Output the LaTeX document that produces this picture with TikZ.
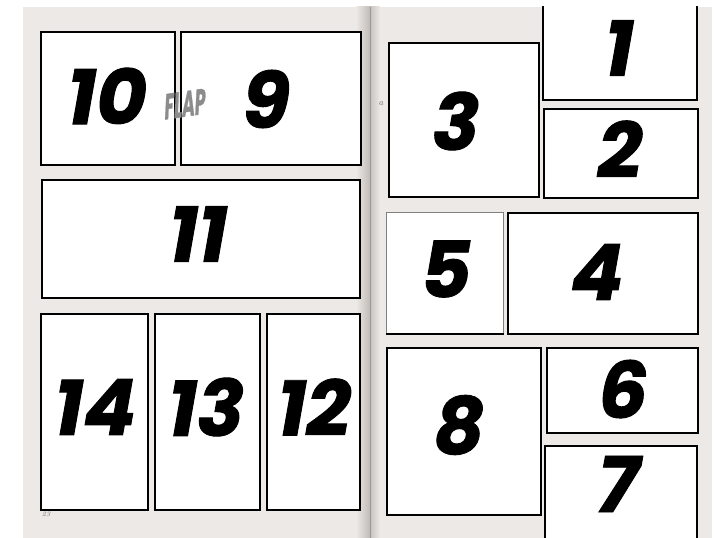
\documentclass[tikz,border=0pt]{standalone}
\usepackage{fontspec}
\newfontfamily\numfont{Poppins}[BoldItalicFeatures={FakeBold=1.2}]
\tikzset{
  panel/.style={draw=black, line width=2.4bp, fill=white},
  num/.style={font=\numfont\bfseries\itshape\fontsize{78}{78}\selectfont, inner sep=0pt},
  tiny/.style={font=\itshape\fontsize{7}{7}\selectfont, text=black!55, inner sep=0pt},
}
\definecolor{paper}{HTML}{ECE9E6}
\definecolor{spine}{HTML}{C4BEBA}
\begin{document}
\begin{tikzpicture}[x=1bp,y=-1bp]
\useasboundingbox (0,0) rectangle (723,538);
\fill[white] (0,0) rectangle (723,538);
% pages
\fill[paper] (23,7) rectangle (712,538);
\shade[left color=paper, right color=spine] (356,7) rectangle (369,538);
\shade[left color=spine, right color=paper] (369,7) rectangle (380,538);
\draw[black!40, line width=0.8bp] (370,7) -- (370,538);
% left page panels
\node[panel, minimum width=134bp, minimum height=133bp, anchor=north west] (p10) at (40,31) {};
\node[panel, minimum width=180bp, minimum height=133bp, anchor=north west] (p9) at (180,31) {};
\node[panel, minimum width=318bp, minimum height=118bp, anchor=north west] (p11) at (41,179) {};
\node[panel, minimum width=107bp, minimum height=196bp, anchor=north west] (p14) at (40,313) {};
\node[panel, minimum width=105bp, minimum height=196bp, anchor=north west] (p13) at (154,313) {};
\node[panel, minimum width=93bp, minimum height=196bp, anchor=north west] (p12) at (266,313) {};
% right page panels
\node[panel, minimum width=150bp, minimum height=154bp, anchor=north west] (p3) at (388,42) {};
\node[panel, minimum width=154bp, minimum height=89bp, anchor=north west] (p2) at (543,108) {};
\node[panel, minimum width=190bp, minimum height=121bp, anchor=north west] (p4) at (507,212) {};
\node[draw=black!50, line width=0.8bp, fill=white, minimum width=117bp, minimum height=121bp, anchor=north west] (p5) at (386,212) {};
\draw[line width=2.4bp] (p5.south west) -- (p5.south east);
\node[panel, minimum width=154bp, minimum height=167bp, anchor=north west] (p8) at (386,347) {};
\node[panel, minimum width=151bp, minimum height=85bp, anchor=north west] (p6) at (546,347) {};
% panel 1 (runs off the top) and panel 7 (runs off the bottom)
\coordinate (p1tl) at (543,6);
\coordinate (p1tr) at (697,6);
\coordinate (p1bl) at (543,100);
\coordinate (p1br) at (697,100);
\fill[white] (p1tl) rectangle (p1br);
\draw[line width=2.4bp] (p1tl) -- (p1bl) -- (p1br) -- (p1tr);
\coordinate (p7tl) at (545,446);
\coordinate (p7tr) at (697,446);
\coordinate (p7bl) at (545,539);
\coordinate (p7br) at (697,539);
\fill[white] (p7tl) rectangle (p7br);
\draw[line width=2.4bp] (p7bl) -- (p7tl) -- (p7tr) -- (p7br);
% numbers
\node[num] (n10) at (107,96) {10};
\node[num] (n9) at (266,99) {9};
\node[num] (n11) at (198,234) {11};
\node[num] (n14) at (95,407) {14};
\node[num] (n13) at (206,407) {13};
\node[num] (n12) at (314,407) {12};
\node[num] (n3) at (456,121) {3};
\node[num] (n1) at (619,48) {1};
\node[num] (n2) at (620,149) {2};
\node[num] (n5) at (446,269) {5};
\node[num] (n4) at (597,272) {4};
\node[num] (n8) at (459,425) {8};
\node[num] (n6) at (623,389) {6};
\node[num] (n7) at (618,484) {7};
% FLAP sound effect
\node[font=\numfont\bfseries\itshape\fontsize{36}{36}\selectfont, text=black!45, xscale=0.48, rotate=4, inner sep=0pt] (flap) at (185,104) {FLAP};
% small marks
\node[tiny] (pg) at (46,514) {23};
\node[tiny, font=\itshape\fontsize{9}{9}\selectfont] (mk) at (381,104) {a};
\end{tikzpicture}
\end{document}
